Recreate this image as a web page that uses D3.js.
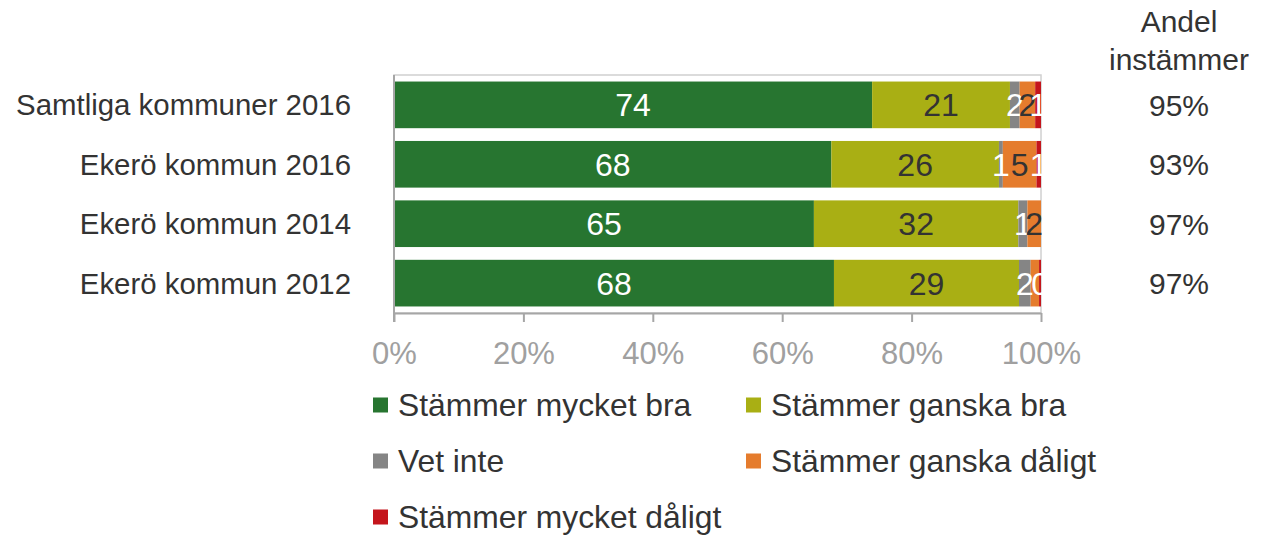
<!DOCTYPE html>
<html>
<head>
<meta charset="utf-8">
<script src="https://cdn.jsdelivr.net/npm/d3@7"></script>
<style>
    body { margin: 0; background: #fff; }
    svg { font-family: "Liberation Sans", Arial, sans-serif; }
</style>
</head>
<body>
<svg id="chart" width="1268" height="535"></svg>
<script>
const categories = ['Samtliga kommuner 2016', 'Ekerö kommun 2016', 'Ekerö kommun 2014', 'Ekerö kommun 2012'];
const seriesNames = ['Stämmer mycket bra', 'Stämmer ganska bra', 'Vet inte', 'Stämmer ganska dåligt', 'Stämmer mycket dåligt'];
const seriesColors = ['#277530', '#a9af14', '#858585', '#e57c2d', '#c4151c'];
const labelColors = ['#fff', '#333', '#fff', '#333', '#fff'];

// one array per series, in category order
const mycketBra   = [73.9, 67.6, 64.9, 68.0];
const ganskaBra   = [21.3, 25.9, 31.6, 28.6];
const vetInte     = [1.5, 0.6, 1.4, 1.8];
const ganskaDalig = [2.4, 5.2, 2.1, 1.3];
const mycketDalig = [0.9, 0.7, 0, 0.3];
const andelInstammer = ['95%', '93%', '97%', '97%'];
const xTicks = [0, 20, 40, 60, 80, 100];
// labels Excel hid because they overlapped: [category index, series index]
const hiddenLabels = [[3, 3]];

const seriesValues = [mycketBra, ganskaBra, vetInte, ganskaDalig, mycketDalig];

const svg = d3.select('#chart');
const plot = { left: 394, right: 1041, top: 75, bottom: 313 };

const x = d3.scaleLinear().domain([0, 100]).range([plot.left, plot.right]);
const y = d3.scaleBand().domain(categories).range([plot.top, plot.bottom]).paddingInner(0.215).paddingOuter(0.11);

const rows = categories.map((c, i) => {
    const r = { cat: c };
    seriesNames.forEach((s, j) => { r[s] = seriesValues[j][i]; });
    return r;
});
const stacked = d3.stack().keys(seriesNames)(rows);

svg.append('defs').append('clipPath').attr('id', 'plotClip')
    .append('rect')
    .attr('x', plot.left).attr('y', plot.top)
    .attr('width', plot.right - plot.left + 1).attr('height', plot.bottom - plot.top);

// plot frame
svg.append('rect')
    .attr('x', plot.left).attr('y', plot.top)
    .attr('width', plot.right - plot.left).attr('height', plot.bottom - plot.top)
    .attr('fill', 'none').attr('stroke', '#d0d0d0').attr('stroke-width', 1.5);

const layers = svg.append('g').selectAll('g')
    .data(stacked)
    .join('g')
    .attr('fill', (d, i) => seriesColors[i]);

layers.selectAll('rect')
    .data(d => d)
    .join('rect')
    .attr('x', d => x(d[0]))
    .attr('y', d => y(d.data.cat))
    .attr('width', d => x(d[1]) - x(d[0]))
    .attr('height', y.bandwidth());

// data labels
const labelG = svg.append('g').attr('clip-path', 'url(#plotClip)')
    .attr('font-size', 32).attr('text-anchor', 'middle');
stacked.forEach((layer, j) => {
    layer.forEach((d, i) => {
        const v = d[1] - d[0];
        if (v <= 0) return;
        if (hiddenLabels.some(h => h[0] === i && h[1] === j)) return;
        labelG.append('text')
            .attr('x', x((d[0] + d[1]) / 2))
            .attr('y', y(d.data.cat) + y.bandwidth() / 2)
            .attr('dy', '0.36em')
            .attr('fill', labelColors[j])
            .text(Math.round(v));
    });
});

// x axis
const xAxis = svg.append('g')
    .attr('transform', `translate(0,${plot.bottom})`)
    .call(d3.axisBottom(x).tickValues(xTicks).tickFormat(d => d + '%').tickSize(9).tickSizeOuter(0));
xAxis.select('.domain').attr('stroke', '#a6a6a6').attr('stroke-width', 2);
xAxis.selectAll('.tick line').attr('stroke', '#a6a6a6').attr('stroke-width', 2);
xAxis.selectAll('.tick text')
    .attr('font-family', '"Liberation Sans", Arial, sans-serif')
    .attr('font-size', 31).attr('fill', '#a0a0a0').attr('y', 29);

// left axis line
svg.append('line')
    .attr('x1', plot.left).attr('x2', plot.left)
    .attr('y1', plot.top).attr('y2', plot.bottom + 9)
    .attr('stroke', '#a6a6a6').attr('stroke-width', 2);

// category labels
svg.append('g').selectAll('text')
    .data(categories)
    .join('text')
    .attr('x', 351)
    .attr('y', d => y(d) + y.bandwidth() / 2)
    .attr('dy', '0.36em')
    .attr('text-anchor', 'end')
    .attr('font-size', 29.4)
    .attr('fill', '#333')
    .text(d => d);

// right column: Andel instämmer
const rightX = 1179;
svg.append('text').attr('x', rightX).attr('y', 32).attr('text-anchor', 'middle')
    .attr('font-size', 30).attr('fill', '#333').text('Andel');
svg.append('text').attr('x', rightX).attr('y', 70).attr('text-anchor', 'middle')
    .attr('font-size', 30).attr('fill', '#333').text('instämmer');
svg.append('g').selectAll('text')
    .data(andelInstammer)
    .join('text')
    .attr('x', rightX)
    .attr('y', (d, i) => y(categories[i]) + y.bandwidth() / 2)
    .attr('dy', '0.36em')
    .attr('text-anchor', 'middle')
    .attr('font-size', 30)
    .attr('fill', '#333')
    .text(d => d);

// legend
const legendCols = [373, 746];
const legendRows = [405, 461, 517];
const legend = svg.append('g').selectAll('g')
    .data(seriesNames)
    .join('g')
    .attr('transform', (d, i) => `translate(${legendCols[i % 2]},${legendRows[Math.floor(i / 2)]})`);
legend.append('rect')
    .attr('x', 0).attr('y', -7.5).attr('width', 15).attr('height', 15)
    .attr('fill', (d, i) => seriesColors[i]);
legend.append('text')
    .attr('x', 25).attr('dy', '0.36em')
    .attr('font-size', 31.8).attr('fill', '#333')
    .text(d => d);
</script>
</body>
</html>
